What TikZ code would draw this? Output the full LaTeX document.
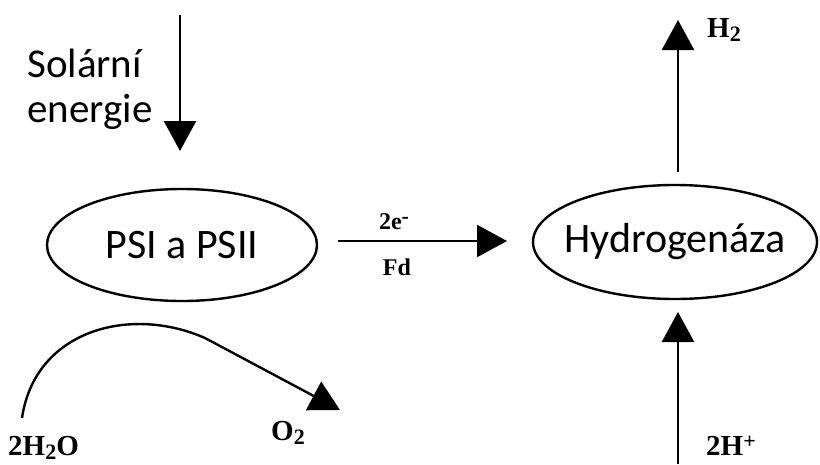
\documentclass[tikz,border=0pt]{standalone}
\usepackage{fontspec}
\setmainfont{Liberation Serif}
\setsansfont{Carlito}
\usetikzlibrary{positioning,calc,arrows.meta,shapes.geometric}

\newcommand{\chemsub}[1]{\raisebox{-0.3ex}{\fontsize{22}{22}\selectfont\bfseries #1}}
\newcommand{\chemsup}[1]{\raisebox{0.55ex}{\fontsize{22}{22}\selectfont\bfseries #1}}

\begin{document}
\begin{tikzpicture}[
  x=1pt,y=-1pt,
  enz/.style={draw,ellipse,line width=2.4pt,minimum width=270pt,minimum height=112pt,
              inner xsep=-30pt,inner ysep=0pt,font=\fontsize{42}{44}\selectfont\sffamily},
  flow/.style={-{Triangle[length=30pt,width=32pt]},line width=2.4pt},
  chem/.style={font=\fontsize{29}{32}\selectfont\bfseries,inner sep=0pt},
  small/.style={font=\fontsize{24}{26}\selectfont\bfseries,inner sep=0pt}
]
\useasboundingbox (0,0) rectangle (820,464);

% ==========  Enzymes  ==========
\node[enz] (psi) at (182,245) {PSI a PSII};
\node[enz,minimum width=284pt,minimum height=114pt] (hyd) at (675,242) {Hydrogenáza};

% ==========  Solar input  ==========
\coordinate (sunTop) at (180,15);
\coordinate (sunEnd) at (180,151);
\node[font=\fontsize{41}{45}\selectfont\sffamily,align=left,anchor=west,inner sep=0pt]
  (sun) at (27,89) {Solární\\energie};
\draw[flow] (sunTop) -- (sunEnd);

% ==========  Electron transfer  ==========
\coordinate (eStart) at (338,241);
\coordinate (eEnd) at (507,241);
\draw[flow] (eStart) -- (eEnd);
\node[small] (el) at (394,222) {2e\chemsup{-}};
\node[small] (fd) at (397,267) {Fd};

% ==========  Hydrogen out / protons in  ==========
\coordinate (hOut) at (678,20);
\coordinate (hStart) at (678,172);
\coordinate (hpIn) at (678,464);
\coordinate (hpEnd) at (678,312);
\draw[flow] (hStart) -- (hOut);
\draw[flow] (hpIn) -- (hpEnd);
\node[chem,anchor=west] (h2) at (707,30) {H\chemsub{2}};
\node[chem,anchor=west] (hp) at (706,446) {2H\chemsup{+}};

% ==========  Water splitting  ==========
\node[chem,anchor=west] (water) at (8,448) {2H\chemsub{2}O};
\node[chem] (oxy) at (288,433) {O\chemsub{2}};
\coordinate (wStart) at (22,418);
\coordinate (oEnd) at (340,410);
\draw[flow] (wStart) .. controls (35,330) and (130,305) .. (205,338) -- (oEnd);

\end{tikzpicture}
\end{document}
